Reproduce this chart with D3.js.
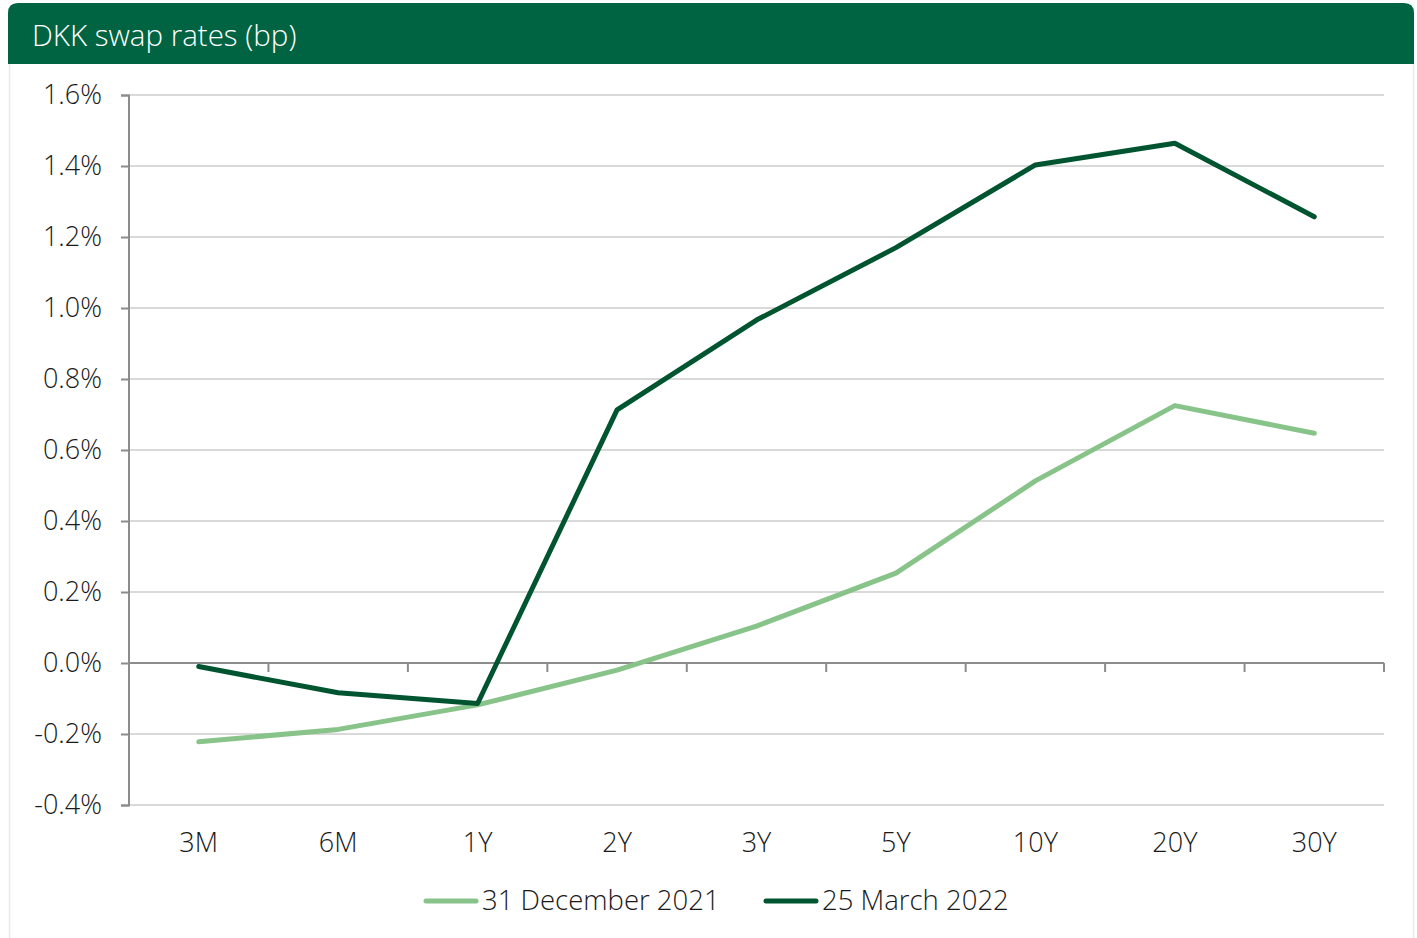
<!DOCTYPE html>
<html><head><meta charset="utf-8">
<script src="https://cdn.jsdelivr.net/npm/d3@7"></script>
<style>
html,body{margin:0;padding:0;background:#fff;}
svg{display:block;font-family:"Open Sans",sans-serif;font-weight:300;}
</style></head>
<body><svg id="c" width="1417" height="938"></svg>
<script>
const title = "DKK swap rates (bp)";
const categories = ["3M","6M","1Y","2Y","3Y","5Y","10Y","20Y","30Y"];
const seriesNames = ["31 December 2021","25 March 2022"];
const dec2021 = [-0.222,-0.187,-0.118,-0.020,0.104,0.253,0.513,0.725,0.647];
const mar2022 = [-0.010,-0.084,-0.114,0.713,0.966,1.170,1.403,1.464,1.257];
const yTicks = [-0.4,-0.2,0.0,0.2,0.4,0.6,0.8,1.0,1.2,1.4,1.6];
const colors = ["#88c48a","#005530"];

const svg = d3.select("#c");
// frame
svg.append("path")
  .attr("d","M9.5,64 V938 M1413.5,64 V938")
  .attr("stroke","#e2efe2").attr("stroke-width",1.5).attr("fill","none");
// title bar
const r = 10;
svg.append("path")
  .attr("d",`M8,64 V${3+r} Q8,3 ${8+r},3 H${1414-r} Q1414,3 1414,${3+r} V64 Z`)
  .attr("fill","#006341");
svg.append("text").attr("x",32).attr("y",46).attr("fill","#fff")
  .attr("font-size",29.5).text(title);

const x = d3.scaleBand().domain(categories).range([129,1384]);
const y = d3.scaleLinear().domain([-0.4,1.6]).range([805,95]);

// gridlines
svg.append("g").selectAll("line").data(yTicks).join("line")
  .attr("x1",129).attr("x2",1384)
  .attr("y1",d=>y(d)).attr("y2",d=>y(d))
  .attr("stroke","#d9d9d9").attr("stroke-width",2);

// y axis
const yAxis = d3.axisLeft(y).tickValues(yTicks).tickSize(8).tickPadding(19)
  .tickFormat(d=>d3.format(".1f")(d).replace("\u2212","-")+"%");
const gy = svg.append("g").attr("transform","translate(129,0)").call(yAxis);
gy.select(".domain").attr("stroke","#8c8c8c").attr("stroke-width",2).attr("d","M-8,95.5H0V805.5H-8");
gy.selectAll(".tick line").attr("stroke","#8c8c8c").attr("stroke-width",2);
gy.selectAll(".tick text").attr("font-size",27).attr("fill","#1a1a1a").attr("font-family","Open Sans").attr("font-weight",300);

// x axis at zero
const bounds = categories.map(c=>x(c)).concat([1384]);
const gx = svg.append("g");
gx.append("line").attr("x1",129).attr("x2",1384).attr("y1",y(0)).attr("y2",y(0))
  .attr("stroke","#8c8c8c").attr("stroke-width",2);
gx.selectAll("line.t").data(bounds.slice(1)).join("line").attr("class","t")
  .attr("x1",d=>d).attr("x2",d=>d).attr("y1",y(0)).attr("y2",y(0)+9)
  .attr("stroke","#8c8c8c").attr("stroke-width",2);
// category labels
const gxl = svg.append("g").attr("transform","translate(0,805)")
  .call(d3.axisBottom(x).tickSize(0).tickPadding(28));
gxl.select(".domain").remove();
gxl.selectAll(".tick text").attr("font-size",27).attr("fill","#1a1a1a").attr("font-family","Open Sans").attr("font-weight",300);

// lines
const line = d3.line().x((d,i)=>x(categories[i])+x.bandwidth()/2).y(d=>y(d));
[dec2021, mar2022].forEach((s,i)=>{
  svg.append("path").datum(s).attr("d",line).attr("fill","none")
    .attr("stroke",colors[i]).attr("stroke-width",5)
    .attr("stroke-linecap","round").attr("stroke-linejoin","round");
});

// legend
const legX = [424, 764];
seriesNames.forEach((n,i)=>{
  svg.append("line").attr("x1",legX[i]+2).attr("x2",legX[i]+52)
    .attr("y1",901).attr("y2",901).attr("stroke",colors[i]).attr("stroke-width",5)
    .attr("stroke-linecap","round");
  svg.append("text").attr("x",legX[i]+58).attr("y",910).attr("font-size",27.5)
    .attr("fill","#1a1a1a").text(n);
});
</script></body></html>
